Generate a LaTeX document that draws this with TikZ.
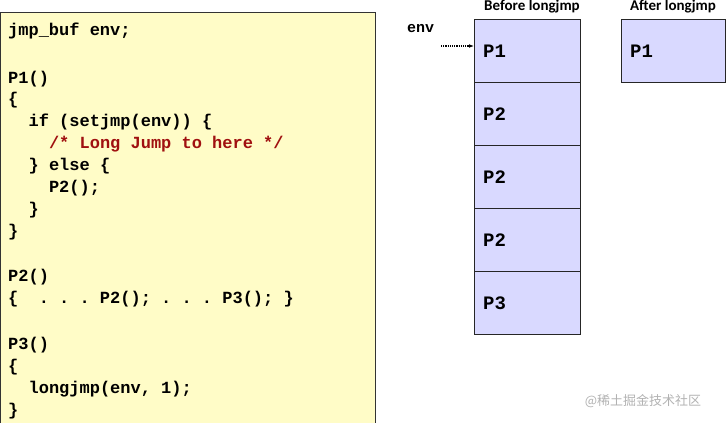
\documentclass[tikz,border=0pt]{standalone}
\usepackage{fontspec}
\usetikzlibrary{arrows.meta}
\setmonofont{Liberation Mono}
\setsansfont{Carlito}
\begin{document}
\begin{tikzpicture}[x=1pt,y=-1pt,
  code/.style={anchor=base west,inner sep=0pt,font=\ttfamily\bfseries\fontsize{17}{20}\selectfont},
  frame/.style={draw=black!85,line width=1.3pt,fill=blue!15!white,minimum width=106pt,minimum height=63pt,anchor=north west,inner sep=0pt},
  fl/.style={anchor=west,inner sep=0pt,font=\ttfamily\bfseries\fontsize{19}{22}\selectfont,xshift=9pt},
  hdr/.style={inner sep=0pt,font=\sffamily\bfseries\fontsize{15}{18}\selectfont}]
\useasboundingbox (0,0) rectangle (726,423);
\fill[yellow!22!white] (0,12) rectangle (375,430);
\draw[black!80,line width=1pt] (0,430) -- (0,12) -- (375,12) -- (375,430);
\definecolor{cmt}{HTML}{A01010}
\node[code] (l1) at (8,35) {jmp\_buf env;};
\node[code] (l2) at (8,83) {P1()};
\node[code] (l3) at (8,104) {\{};
\node[code] (l4) at (8,126) {\ \ if (setjmp(env)) \{};
\node[code,text=cmt] (l5) at (8,148) {\ \ \ \ /* Long Jump to here */};
\node[code] (l6) at (8,170) {\ \ \} else \{};
\node[code] (l7) at (8,192) {\ \ \ \ P2();};
\node[code] (l8) at (8,214) {\ \ \}};
\node[code] (l9) at (8,236) {\}};
\node[code] (l10) at (8,281) {P2()};
\node[code] (l11) at (8,303) {\{\ \ . . . P2(); . . . P3(); \}};
\node[code] (l12) at (8,349) {P3()};
\node[code] (l13) at (8,371) {\{};
\node[code] (l14) at (8,393) {\ \ longjmp(env, 1);};
\node[code] (l15) at (8,415) {\}};
\node[frame] (s1) at (474,19) {};
\node[frame] (s2) at (474,82) {};
\node[frame] (s3) at (474,145) {};
\node[frame] (s4) at (474,208) {};
\node[frame] (s5) at (474,271) {};
\node[fl] at (s1.west) {P1};
\node[fl] at (s2.west) {P2};
\node[fl] at (s3.west) {P2};
\node[fl] at (s4.west) {P2};
\node[fl] at (s5.west) {P3};
\node[frame,minimum width=104pt] (a1) at (621,19) {};
\node[fl] at (a1.west) {P1};
\node[hdr] at (532,7) {Before longjmp};
\node[hdr] at (673,7) {After longjmp};
\node[code,font=\ttfamily\bfseries\fontsize{15}{18}\selectfont] (env) at (407,32) {env};
\coordinate (envs) at (441,46);
\draw[densely dotted,line width=1.2pt,-{Latex[length=5pt]}] (envs) -- (s1.north west |- envs);
\node[inner sep=0pt,text=black!30,font=\fontsize{13}{15}\selectfont] (wm) at (643,401) {\fontspec{Noto Sans CJK SC}@稀土掘金技术社区};
\end{tikzpicture}
\end{document}
